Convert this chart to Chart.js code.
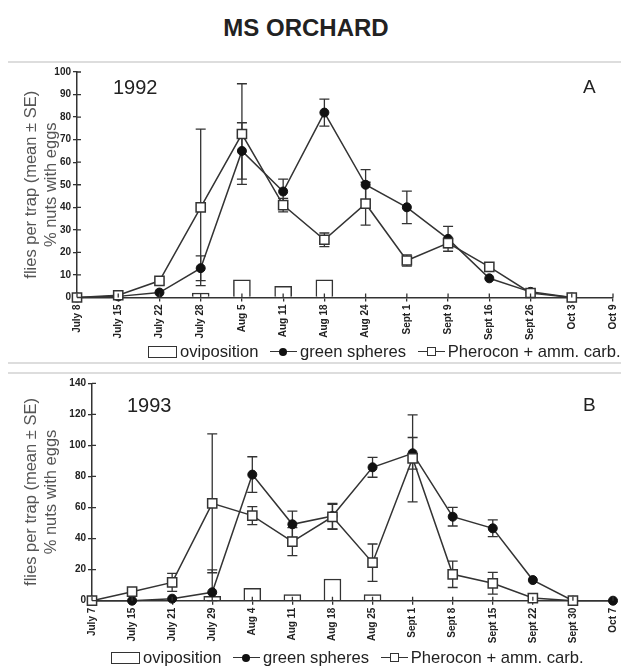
<!DOCTYPE html>
<html>
<head>
<meta charset="utf-8">
<script src="https://cdn.jsdelivr.net/npm/chart.js@4.4.1/dist/chart.umd.min.js"></script>
<style>
  body { margin: 0; width: 621px; height: 668px; background: #fff; position: relative; overflow: hidden;
         font-family: "Liberation Sans", Arial, sans-serif; }
  .abs { position: absolute; }
  #title { left: 0; width: 612px; top: 14px; text-align: center; font-weight: bold; font-size: 24px; color: #222; }
  .sep { position: absolute; left: 8px; right: 0; height: 2px; background: #ddd; }
  .year { font-size: 20px; color: #222; line-height: 20px; }
  .panel { font-size: 19px; color: #222; line-height: 20px; }
  .legend { position: absolute; font-size: 16.6px; color: #222; line-height: 18px; white-space: nowrap; }
  .legend span { display: inline-block; vertical-align: middle; }
  .box { width: 27px; height: 10px; border: 1.3px solid #333; margin-right: 3px; }
  .lm { position: relative; width: 27px; height: 12px; margin: 0 3px 0 7px; }
  .lm i { position: absolute; display: block; }
  .ln { left: 0; right: 0; top: 5px; height: 1.5px; background: #333; }
  .dot { left: 9px; top: 2px; width: 8px; height: 8px; border-radius: 50%; background: #111; }
  .sq { left: 9px; top: 1px; width: 7px; height: 7px; border: 1.3px solid #333; background: #fff; }
</style>
</head>
<body>
<div id="title" class="abs">MS ORCHARD</div>
<div class="sep" style="top:61px"></div>
<div class="sep" style="top:362px"></div>
<div class="sep" style="top:372px"></div>

<canvas id="chartA" class="abs" style="left:0;top:63px" width="621" height="282"></canvas>
<canvas id="chartB" class="abs" style="left:0;top:372px" width="621" height="278"></canvas>

<div class="abs year" style="left:113px;top:77px">1992</div>
<div class="abs panel" style="left:583px;top:77px">A</div>
<div class="abs year" style="left:127px;top:395px">1993</div>
<div class="abs panel" style="left:583px;top:395px">B</div>

<div class="legend" style="left:148px;top:342px">
  <span class="box"></span><span>oviposition</span>
  <span class="lm"><i class="ln"></i><i class="dot"></i></span><span>green spheres</span>
  <span class="lm"><i class="ln"></i><i class="sq"></i></span><span>Pherocon + amm. carb.</span>
</div>
<div class="legend" style="left:111px;top:648px">
  <span class="box"></span><span>oviposition</span>
  <span class="lm"><i class="ln"></i><i class="dot"></i></span><span>green spheres</span>
  <span class="lm"><i class="ln"></i><i class="sq"></i></span><span>Pherocon + amm. carb.</span>
</div>

<script>
// 1992
const datesA = ['July 8', 'July 15', 'July 22', 'July 28', 'Aug 5', 'Aug 11', 'Aug 18', 'Aug 24',
                'Sept 1', 'Sept 9', 'Sept 16', 'Sept 26', 'Oct 3', 'Oct 9'];
const spheresA = [0, 0.5, 2.2, 13, 65, 47, 82, 50, 40, 26, 8.5, 2.5, 0, null];
const spheresSeA = [0, 0, 0, 5.5, 12.5, 5.5, 6, 6.7, 7.2, 5.5, 0, 0, 0, null];
const pheroconA = [0, 1, 7.4, 40, 72.5, 41, 25.6, 41.6, 16.4, 24.1, 13.6, 2, 0, null];
const pheroconSeA = [0, 0, 0, 34.7, 22.3, 3, 3, 9.5, 2.5, 2, 0, 0, 0, null];
const ovipositionA = [null, null, null, 2, 7.8, 4.9, 7.8, null, null, null, null, null, null, null];

// 1993
const datesB = ['July 7', 'July 15', 'July 21', 'July 29', 'Aug 4', 'Aug 11', 'Aug 18', 'Aug 25',
                'Sept 1', 'Sept 8', 'Sept 15', 'Sept 22', 'Sept 30', 'Oct 7'];
const spheresB = [0, 0, 1.3, 5.4, 81.2, 49.2, 54.5, 85.9, 94.9, 54.1, 46.6, 13.3, 0, 0];
const spheresSeB = [0, 0, 0, 14.4, 11.5, 8.5, 8.2, 6.4, 10.2, 6, 5.4, 0, 0, 0];
const pheroconB = [0, 5.8, 11.8, 62.7, 54.8, 38, 54, 24.5, 91.7, 17, 11.2, 1.7, 0, null];
const pheroconSeB = [0, 1.5, 5.8, 44.7, 5.8, 9, 8, 12, 28, 8.5, 7, 0, 0, null];
const ovipositionB = [null, null, null, 2.8, 8, 4, 14, 4, null, null, null, null, null, null];

const ink = '#333';

// draws the ± SE whiskers from the dataset's errors array
const errorBars = {
    id: 'errorBars',
    beforeDatasetsDraw(chart) {
        const ctx = chart.ctx;
        const y = chart.scales.y;
        ctx.save();
        ctx.strokeStyle = ink;
        ctx.lineWidth = 1.3;
        chart.data.datasets.forEach((ds, i) => {
            if (!ds.errors) return;
            chart.getDatasetMeta(i).data.forEach((pt, j) => {
                const v = ds.data[j], e = ds.errors[j];
                if (v == null || !e) return;
                const top = y.getPixelForValue(v + e);
                const bot = y.getPixelForValue(Math.max(0, v - e));
                ctx.beginPath();
                ctx.moveTo(pt.x, top); ctx.lineTo(pt.x, bot);
                ctx.moveTo(pt.x - 5, top); ctx.lineTo(pt.x + 5, top);
                ctx.moveTo(pt.x - 5, bot); ctx.lineTo(pt.x + 5, bot);
                ctx.stroke();
            });
        });
        ctx.restore();
    }
};

// tick marks cross the axes, so add the inner half
const innerTicks = {
    id: 'innerTicks',
    afterDraw(chart) {
        const ctx = chart.ctx, x = chart.scales.x, y = chart.scales.y;
        ctx.save();
        ctx.strokeStyle = ink;
        ctx.lineWidth = 1.3;
        ctx.beginPath();
        y.ticks.forEach(t => {
            const py = y.getPixelForValue(t.value);
            ctx.moveTo(x.left, py); ctx.lineTo(x.left + 4, py);
        });
        x.ticks.forEach((t, i) => {
            const px = x.getPixelForValue(i);
            ctx.moveTo(px, y.bottom); ctx.lineTo(px, y.bottom - 4);
        });
        ctx.stroke();
        ctx.restore();
    }
};

function makeChart(id, labels, ovi, sph, sphSe, phe, pheSe, yMax, yStep, yWidth, xHeight, padTop) {
    const ctx = document.getElementById(id).getContext('2d');
    return new Chart(ctx, {
        type: 'line',
        data: {
            labels: labels,
            datasets: [{
                type: 'bar',
                label: 'oviposition',
                data: ovi,
                backgroundColor: '#fff',
                borderColor: ink,
                borderWidth: 1.5,
                barThickness: 17,
                order: 2
            }, {
                label: 'green spheres',
                data: sph,
                errors: sphSe,
                borderColor: ink,
                borderWidth: 1.5,
                pointStyle: 'circle',
                pointRadius: 4.5,
                pointBackgroundColor: '#111',
                pointBorderColor: '#111',
                pointBorderWidth: 1,
                clip: false,
                order: 1
            }, {
                label: 'Pherocon + amm. carb.',
                data: phe,
                errors: pheSe,
                borderColor: ink,
                borderWidth: 1.5,
                pointStyle: 'rect',
                pointRadius: 6.5,
                pointBackgroundColor: '#fff',
                pointBorderColor: ink,
                pointBorderWidth: 1.5,
                clip: false,
                order: 0
            }]
        },
        options: {
            responsive: false,
            animation: false,
            layout: { padding: { left: 22, right: 8, top: padTop, bottom: 0 } },
            plugins: { legend: { display: false }, tooltip: { enabled: false } },
            scales: {
                x: {
                    type: 'category',
                    offset: false,
                    grid: { offset: false, drawOnChartArea: false, tickLength: 4, color: ink, lineWidth: 1.3 },
                    border: { color: ink, width: 1.5 },
                    ticks: {
                        autoSkip: false, minRotation: 90, maxRotation: 90, padding: 3,
                        color: '#222', font: { family: 'Liberation Sans', size: 10, weight: 'bold' }
                    },
                    afterFit(s) { s.height = xHeight; s.paddingRight = 0; s.paddingLeft = 0; }
                },
                y: {
                    min: 0, max: yMax,
                    grid: { drawOnChartArea: false, tickLength: 4, color: ink, lineWidth: 1.3 },
                    border: { color: ink, width: 1.5 },
                    ticks: {
                        stepSize: yStep, padding: 2,
                        color: '#222', font: { family: 'Liberation Sans', size: 10, weight: 'bold' }
                    },
                    title: {
                        display: true,
                        text: ['flies per trap (mean \u00b1 SE)', '% nuts with eggs'],
                        color: '#555',
                        padding: 0,
                        font: { family: 'Liberation Sans', size: 16.5, lineHeight: 1.2 }
                    },
                    afterFit(s) { s.width = yWidth; }
                }
            }
        },
        plugins: [errorBars, innerTicks]
    });
}

makeChart('chartA', datesA, ovipositionA, spheresA, spheresSeA, pheroconA, pheroconSeA, 100, 10, 55, 47.5, 9);
makeChart('chartB', datesB, ovipositionB, spheresB, spheresSeB, pheroconB, pheroconSeB, 140, 20, 70, 49.3, 11.3);
</script>
</body>
</html>
